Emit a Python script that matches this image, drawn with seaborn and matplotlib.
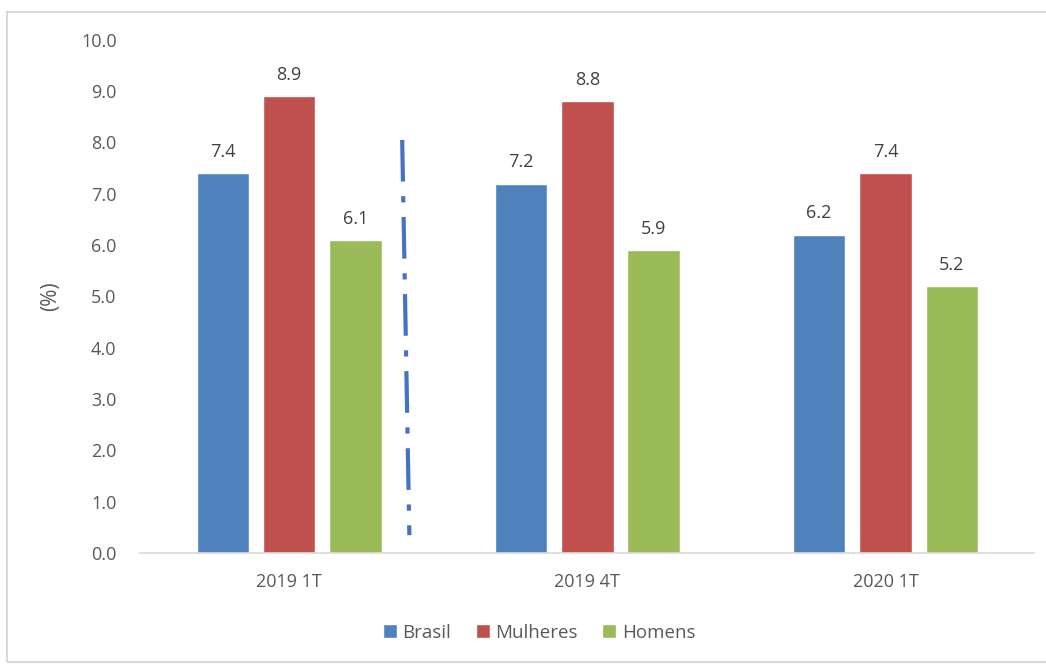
import matplotlib
matplotlib.use("Agg")
import matplotlib.pyplot as plt
from matplotlib.patches import Rectangle
import seaborn as sns
import pandas as pd

periods = ["2019 1T", "2019 4T", "2020 1T"]
series = ["Brasil", "Mulheres", "Homens"]
brasil = [7.4, 7.2, 6.2]
mulheres = [8.9, 8.8, 7.4]
homens = [6.1, 5.9, 5.2]
colors = ["#4F81BD", "#C0504D", "#9BBB59"]
yticks = [0, 1, 2, 3, 4, 5, 6, 7, 8, 9, 10]

df = pd.DataFrame({
    "periodo": periods * 3,
    "grupo": [s for s in series for _ in periods],
    "valor": brasil + mulheres + homens,
})

sns.set_theme(style="white")
plt.rcParams["font.family"] = ["Open Sans", "DejaVu Sans"]
text_color = "#595959"

fig = plt.figure(figsize=(10.46, 6.64), dpi=100)
ax = fig.add_axes([0.134, 0.167, 0.855, 0.773])

sns.barplot(data=df, x="periodo", y="valor", hue="grupo", order=periods,
            hue_order=series, palette=colors, width=0.667, gap=0.21,
            saturation=1, ax=ax, legend=True)

for cont in ax.containers:
    ax.bar_label(cont, fmt="%.1f", padding=9, fontsize=13, color="#404040")

# separator between the two years
ax.plot([0.379, 0.403], [8.05, 0.35], color="#4472C4", lw=3,
        dashes=(10, 3.5, 1.5, 3.5), solid_capstyle="butt",
        dash_capstyle="butt")

ax.set_ylim(0, 10)
ax.set_xlim(-0.5, 2.5)
ax.set_yticks(yticks)
ax.set_yticklabels([f"{v:.1f}" for v in yticks])
ax.tick_params(axis="both", length=0, labelsize=13, colors=text_color)
ax.tick_params(axis="y", pad=17)
ax.tick_params(axis="x", pad=14)
ax.set_xlabel("")
ax.set_ylabel("(%)", fontsize=15, color=text_color, labelpad=14)

for side in ["left", "right", "top"]:
    ax.spines[side].set_visible(False)
ax.spines["bottom"].set_color("#d9d9d9")
ax.spines["bottom"].set_linewidth(1.2)

handles, labels = ax.get_legend_handles_labels()
ax.legend(handles, labels, loc="center", bbox_to_anchor=(0.446, -0.155),
          ncol=3, frameon=False, fontsize=13.5, handlelength=0.75,
          handleheight=0.75, handletextpad=0.3, columnspacing=1.3,
          labelcolor=text_color)

fig.patches.append(Rectangle((7 / 1046, 2 / 664), 1.0, 1 - 14 / 664,
                             transform=fig.transFigure, fill=False,
                             edgecolor="#d9d9d9", lw=1.5))

fig.savefig("out.png", dpi=100)
